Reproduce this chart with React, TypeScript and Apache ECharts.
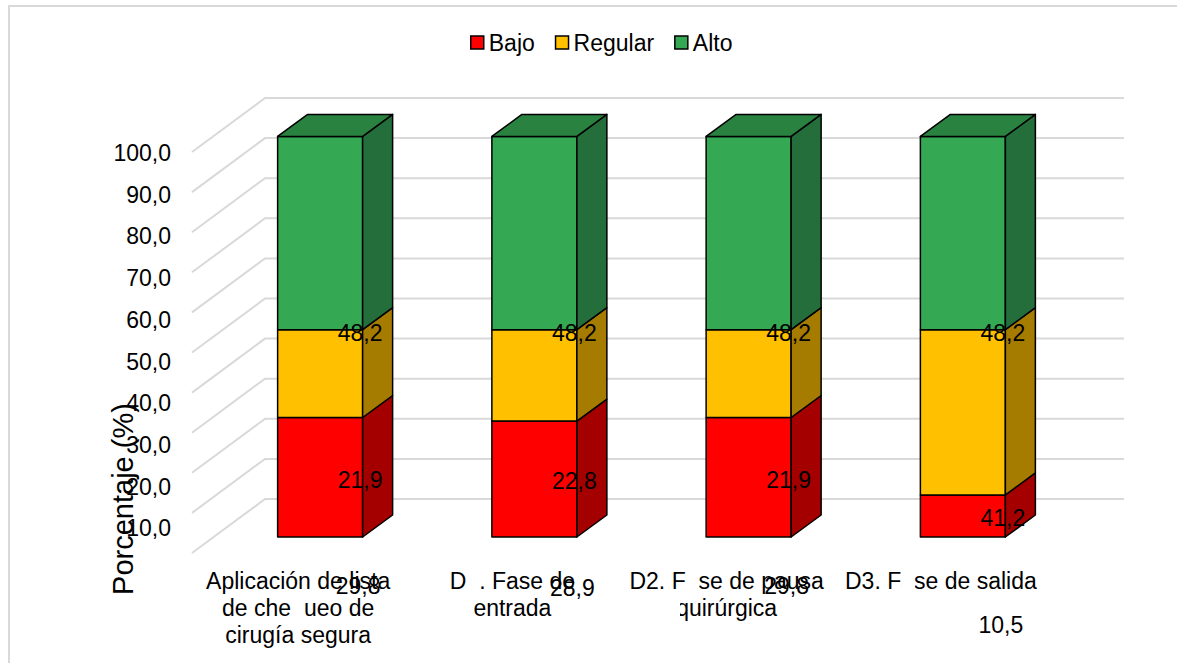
import React, { useEffect, useRef } from "react";
import * as echarts from "echarts";

// Categories (dimensions of the surgical safety checklist)
const categories = [
  "Aplicación de lista\nde chequeo de\ncirugía segura",
  "D1. Fase de\nentrada",
  "D2. Fase de pausa\nquirúrgica",
  "D3. Fase de salida",
];

// Percentages per level
const bajo = [29.8, 28.9, 29.8, 10.5];
const regular = [21.9, 22.8, 21.9, 41.2];
const alto = [48.2, 48.2, 48.2, 48.2];

// Value-axis ticks
const yTicks = [0, 10, 20, 30, 40, 50, 60, 70, 80, 90, 100];

const FONT = "Liberation Sans";
const FS = 23;
const BAR_W = 85;
const DX = 30; // bar depth, horizontal
const DY = 22; // bar depth, vertical

const fmt = (v: number) => v.toFixed(1).replace(".", ",");

const seriesDefs = [
  { name: "Bajo", values: bajo, color: "#FF0000", side: "#A50000", top: "#C00000", offset: [38, 109] },
  { name: "Regular", values: regular, color: "#FFC000", side: "#A67C00", top: "#C89600", offset: [40, 106] },
  { name: "Alto", values: alto, color: "#34A853", side: "#236E3A", top: "#2A8240", offset: [40, 100] },
];

// Narrow white strips where glyphs of the category labels drop out
const labelGaps = [
  { x: 291, y: 595, w: 13, h: 27 },
  { x: 466, y: 568, w: 13, h: 27 },
  { x: 686, y: 568, w: 13, h: 27 },
  { x: 673, y: 595, w: 7, h: 27 },
  { x: 902, y: 568, w: 13, h: 27 },
];

function buildStackData() {
  const starts = categories.map(() => 0);
  return seriesDefs.map((s) =>
    s.values.map((v, i) => {
      const start = starts[i];
      starts[i] += v;
      return [i, start, start + v, v];
    })
  );
}

export default function App() {
  const ref = useRef<HTMLDivElement>(null);

  useEffect(() => {
    if (!ref.current) return;
    const chart = echarts.init(ref.current, null, { renderer: "svg" });
    const stacked = buildStackData();

    const barSeries = seriesDefs.map((s, si) => ({
      type: "custom",
      name: s.name,
      xAxisIndex: 0,
      yAxisIndex: 0,
      clip: false,
      itemStyle: { color: s.color },
      data: stacked[si],
      renderItem: (params: any, api: any) => {
        const i = api.value(0);
        const start = api.value(1);
        const end = api.value(2);
        const val = api.value(3);
        const pTop = api.coord([i, end]);
        const pBot = api.coord([i, start]);
        const xl = pTop[0] - BAR_W / 2;
        const xr = pTop[0] + BAR_W / 2;
        const yt = pTop[1];
        const yb = pBot[1];
        const edge = { stroke: "#000", lineWidth: 1.5, lineJoin: "round" };
        const children: any[] = [
          {
            type: "rect",
            shape: { x: xl, y: yt, width: BAR_W, height: yb - yt },
            style: { fill: s.color, ...edge },
          },
          {
            type: "polygon",
            shape: { points: [[xr, yt], [xr + DX, yt - DY], [xr + DX, yb - DY], [xr, yb]] },
            style: { fill: s.side, ...edge },
          },
        ];
        if (si === seriesDefs.length - 1) {
          children.push({
            type: "polygon",
            shape: { points: [[xl, yt], [xl + DX, yt - DY], [xr + DX, yt - DY], [xr, yt]] },
            style: { fill: s.top, ...edge },
          });
        }
        children.push({
          type: "text",
          z2: 100,
          x: pTop[0] + s.offset[0],
          y: (yt + yb) / 2 + s.offset[1],
          style: {
            text: fmt(val),
            fill: "#000",
            fontSize: FS,
            fontFamily: FONT,
            align: "center",
            verticalAlign: "middle",
            textAlign: "center",
            textVerticalAlign: "middle",
          },
        });
        return { type: "group", children };
      },
    }));

    // Back wall and side wall gridlines
    const gridSeries = {
      type: "custom",
      name: "grid",
      xAxisIndex: 0,
      yAxisIndex: 0,
      clip: false,
      silent: true,
      data: yTicks.map((v) => [0, v]),
      renderItem: (params: any, api: any) => {
        const p = api.coord([0, api.value(1)]);
        const band = api.size([1, 0])[0];
        const left = p[0] - band / 2;
        const right = left + band * categories.length;
        const y = p[1];
        return {
          type: "polyline",
          z2: -10,
          shape: { points: [[left - 21, y + 16], [left + 52, y - 38], [right + 54, y - 38]] },
          style: { stroke: "#D9D9D9", lineWidth: 2, fill: "none" },
        };
      },
    };

    chart.setOption({
      animation: false,
      backgroundColor: "#fff",
      textStyle: { fontFamily: FONT },
      legend: {
        data: seriesDefs.map((s) => ({ name: s.name, icon: "rect" })),
        left: 470,
        top: 31,
        padding: 0,
        itemWidth: 13,
        itemHeight: 13,
        itemGap: 20,
        selectedMode: false,
        itemStyle: { borderColor: "#000", borderWidth: 1.5 },
        textStyle: { fontSize: FS, fontFamily: FONT, color: "#000" },
      },
      grid: [
        { left: 213, top: 136, width: 857, height: 401 },
        { left: 213, top: 153, width: 857, height: 417 },
      ],
      xAxis: [
        {
          type: "category",
          gridIndex: 0,
          data: categories,
          axisLine: { show: false },
          axisTick: { show: false },
          axisLabel: {
            interval: 0,
            margin: 30,
            fontSize: FS,
            lineHeight: 27,
            fontFamily: FONT,
            color: "#000",
            padding: [0, 44, 0, 0],
          },
        },
        { type: "category", gridIndex: 1, data: categories, show: false },
      ],
      yAxis: [
        {
          type: "value",
          gridIndex: 0,
          min: 0,
          max: 100,
          interval: 10,
          axisLabel: { show: false },
          axisLine: { show: false },
          axisTick: { show: false },
          splitLine: { show: false },
        },
        {
          type: "value",
          gridIndex: 1,
          min: 0,
          max: 100,
          interval: 10,
          axisLine: { show: false },
          axisTick: { show: false },
          splitLine: { show: false },
          axisLabel: {
            showMinLabel: false,
            margin: 42,
            fontSize: FS,
            fontFamily: FONT,
            color: "#000",
            formatter: (v: number) => (yTicks.includes(v) ? fmt(v) : ""),
          },
        },
      ],
      graphic: [
        {
          type: "rect",
          silent: true,
          z: -5,
          shape: { x: 9, y: 6, width: 1300, height: 800 },
          style: { fill: "none", stroke: "#D9D9D9", lineWidth: 2 },
        },
        ...labelGaps.map((g) => ({
          type: "rect",
          silent: true,
          z: 1,
          shape: { x: g.x, y: g.y, width: g.w, height: g.h },
          style: { fill: "#fff" },
        })),
        {
          type: "text",
          x: 123,
          y: 499,
          rotation: Math.PI / 2,
          style: {
            text: "Porcentaje (%)",
            fill: "#000",
            fontSize: 29,
            fontFamily: FONT,
            align: "center",
            verticalAlign: "middle",
            textAlign: "center",
            textVerticalAlign: "middle",
          },
        },
      ],
      series: [gridSeries, ...barSeries],
    });

    return () => chart.dispose();
  }, []);

  return (
    <div
      ref={ref}
      style={{ position: "fixed", left: 0, top: 0, width: 1177, height: 663, background: "#fff" }}
    />
  );
}
